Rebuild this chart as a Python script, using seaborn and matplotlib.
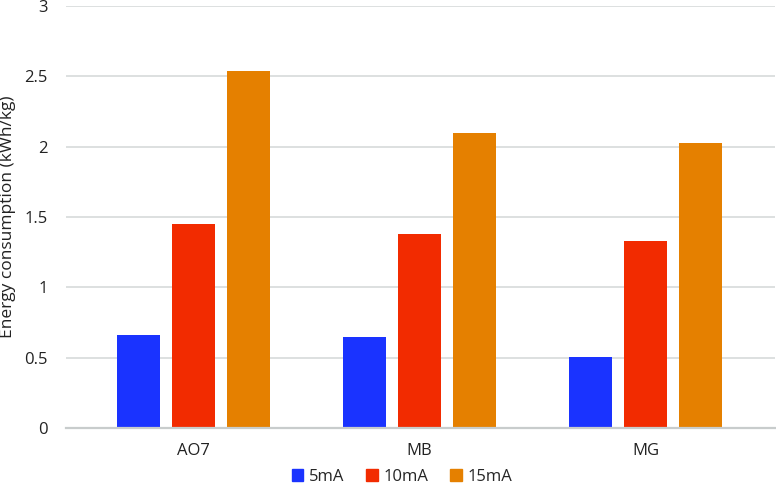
import matplotlib.pyplot as plt
import seaborn as sns
import pandas as pd

# values
dyes = ['AO7', 'MB', 'MG']
currents = ['5mA', '10mA', '15mA']
energy_5mA = [0.660, 0.650, 0.507]
energy_10mA = [1.447, 1.376, 1.330]
energy_15mA = [2.538, 2.100, 2.029]

colors = ['#1A33FF', '#F22B00', '#E58000']

rows = []
for cur, vals in zip(currents, [energy_5mA, energy_10mA, energy_15mA]):
    for dye, v in zip(dyes, vals):
        rows.append({'Dye': dye, 'Current': cur, 'Energy': v})
df = pd.DataFrame(rows)

sns.set_style('white')
plt.rcParams['font.family'] = ['Open Sans', 'DejaVu Sans']

fig = plt.figure(figsize=(7.76, 4.86), dpi=100)
ax = fig.add_axes([66 / 776, 1 - 428 / 486, 709 / 776, 422 / 486])

sns.barplot(data=df, x='Dye', y='Energy', hue='Current', hue_order=currents,
            palette=colors, width=0.73, gap=0.22, saturation=1, ax=ax,
            edgecolor='none', legend=False)

ax.set_ylim(0, 3)
ax.set_xlim(-0.564, 2.573)
ax.set_yticks([0, 0.5, 1, 1.5, 2, 2.5, 3])
ax.set_yticklabels(['0', '0.5', '1', '1.5', '2', '2.5', '3'])
ax.yaxis.grid(True, color='#D7DADA', linewidth=1.2)
ax.set_axisbelow(True)
for s in ['top', 'right', 'left']:
    ax.spines[s].set_visible(False)
ax.spines['bottom'].set_color('#C8CCCC')
ax.spines['bottom'].set_linewidth(1.6)
ax.tick_params(axis='both', length=0, labelsize=12, labelcolor='#222222')
ax.tick_params(axis='y', pad=13)
ax.tick_params(axis='x', pad=11)
ax.set_xlabel('')
ax.set_ylabel('Energy consumption (kWh/kg)', fontsize=12.5, color='#222222')
ax.yaxis.set_label_coords(-0.07, 0.5)

handles = [plt.Rectangle((0, 0), 1, 1, color=c) for c in colors]
fig.legend(handles, currents, loc='center', bbox_to_anchor=(402 / 776, 1 - 477 / 486),
           ncol=3, frameon=False, fontsize=12, handlelength=0.7, handleheight=0.7,
           handletextpad=0.35, columnspacing=1.3, borderpad=0)

fig.savefig('out.png', dpi=100)
